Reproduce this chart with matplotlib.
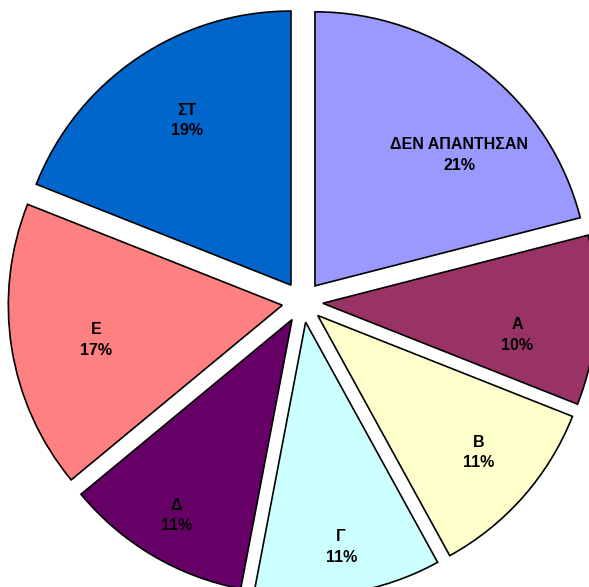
import numpy as np
import matplotlib.pyplot as plt

# Απαντήσεις ανά κατηγορία (%)
categories = ['ΔΕΝ ΑΠΑΝΤΗΣΑΝ', 'Α', 'Β', 'Γ', 'Δ', 'Ε', 'ΣΤ']
values = [21, 10, 11, 11, 11, 17, 19]
colors = ['#9999FF', '#993366', '#FFFFCC', '#CCFFFF', '#660066', '#FF8080', '#0066CC']

# θέση ετικέτας μέσα σε κάθε κομμάτι: απόσταση (σε ακτίνες) και στροφή (μοίρες)
label_dist = [0.71, 0.72, 0.77, 0.83, 0.83, 0.69, 0.71]
label_turn = [-10, -5.7, 1, 0, 0, 1.6, -2]

plt.rcParams['font.family'] = ['Liberation Sans', 'DejaVu Sans']

fig = plt.figure(figsize=(5.89, 5.87), dpi=100)
ax = fig.add_axes([0, 0, 1, 1])

labels = [f'{c}\n{v}%' for c, v in zip(categories, values)]
wedges, texts = ax.pie(values, labels=labels, colors=colors, startangle=90,
                       counterclock=False, explode=[0.0745] * len(values),
                       wedgeprops=dict(edgecolor='black', linewidth=1.2),
                       textprops=dict(fontsize=11.5, fontweight='bold',
                                      ha='center', va='center', linespacing=1.45))

for w, t, r, turn in zip(wedges, texts, label_dist, label_turn):
    ang = np.deg2rad((w.theta1 + w.theta2) / 2 + turn)
    cx, cy = w.center
    t.set_position((cx + r * np.cos(ang), cy + r * np.sin(ang)))
    t.set_ha('center')
    t.set_va('center')

ax.set_xlim(-1.104, 1.046)
ax.set_ylim(-1.040, 1.102)
ax.set_aspect('auto')
ax.axis('off')

fig.savefig('out.png', dpi=100)
